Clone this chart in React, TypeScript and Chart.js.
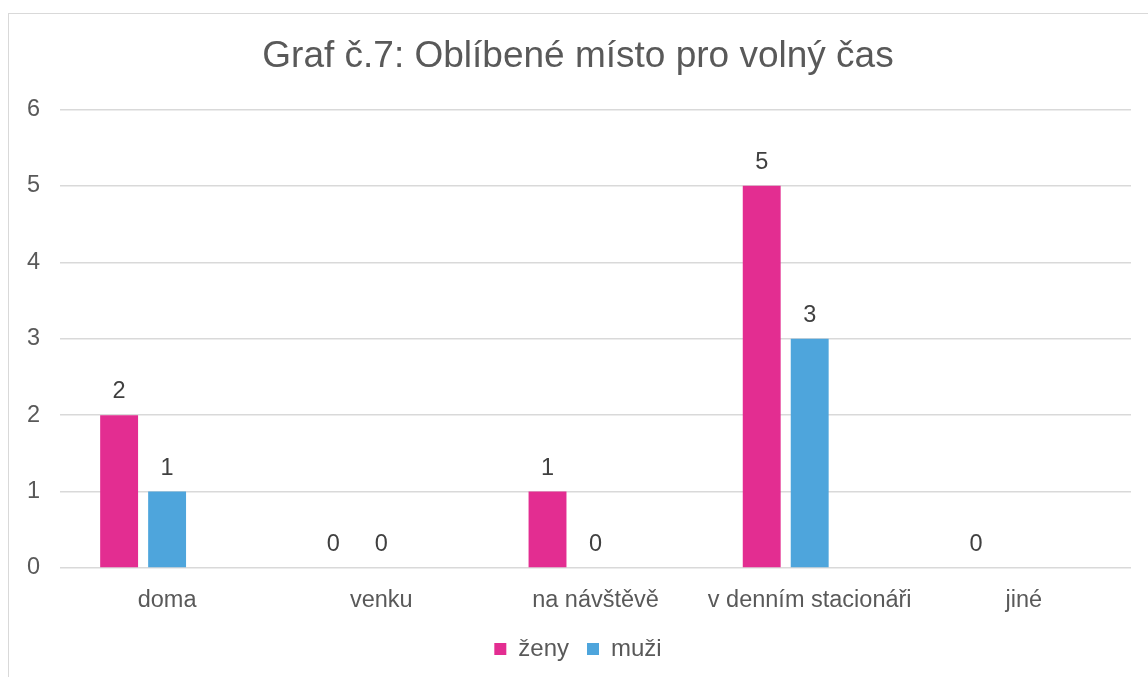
import React, { useEffect, useRef } from "react";
import { Chart, registerables } from "chart.js";

Chart.register(...registerables);

const TITLE = "Graf č.7: Oblíbené místo pro volný čas";
const CATEGORIES = ["doma", "venku", "na návštěvě", "v denním stacionáři", "jiné"];
const ZENY = [2, 0, 1, 5, 0];
const MUZI = [1, 0, 0, 3, null];
const SPACER = [null, null, null, null, null];
const Y_TICKS = [0, 1, 2, 3, 4, 5, 6];

const FONT = "'Liberation Sans', Arial, sans-serif";
const TEXT = "#595959";

const dataLabels = {
  id: "dataLabels",
  afterDatasetsDraw(chart: any) {
    const ctx = chart.ctx;
    ctx.save();
    ctx.font = `23.5px ${FONT}`;
    ctx.fillStyle = "#404040";
    ctx.textAlign = "center";
    ctx.textBaseline = "alphabetic";
    chart.data.datasets.forEach((ds: any, di: number) => {
      if (!ds.showLabels) return;
      const meta = chart.getDatasetMeta(di);
      meta.data.forEach((el: any, i: number) => {
        const v = ds.data[i];
        if (v === null || v === undefined) return;
        ctx.fillText(String(v), el.x, el.y - 17);
      });
    });
    ctx.restore();
  },
};

export default function App() {
  const ref = useRef<HTMLCanvasElement>(null);
  useEffect(() => {
    if (!ref.current) return;
    const chart = new Chart(ref.current, {
      type: "bar",
      data: {
        labels: CATEGORIES,
        datasets: [
          { label: "ženy", data: ZENY, backgroundColor: "#E32D91", showLabels: true } as any,
          { label: "muži", data: MUZI, backgroundColor: "#4EA5DC", showLabels: true } as any,
          { label: "", data: SPACER, backgroundColor: "rgba(0,0,0,0)", showLabels: false } as any,
        ],
      },
      options: {
        animation: false,
        responsive: false,
        maintainAspectRatio: false,
        devicePixelRatio: 1,
        layout: { padding: { left: 25, right: 17, top: 0, bottom: 6 } },
        datasets: { bar: { categoryPercentage: 0.672, barPercentage: 0.79 } },
        plugins: {
          title: {
            display: true,
            text: TITLE,
            color: TEXT,
            font: { family: FONT, size: 37, weight: "normal" },
            padding: { top: 35, bottom: 30 },
          },
          legend: {
            position: "bottom",
            labels: {
              color: TEXT,
              font: { family: FONT, size: 24 },
              boxWidth: 12,
              boxHeight: 12,
              padding: 18,
              filter: (item: any) => item.text !== "",
            },
          },
          tooltip: { enabled: false },
        },
        scales: {
          x: {
            grid: { display: false, drawTicks: false },
            border: { display: false },
            ticks: { color: TEXT, font: { family: FONT, size: 23.5 }, padding: 18, maxRotation: 0 },
            afterFit: (s: any) => { s.height = 51; },
          },
          y: {
            min: 0,
            max: 6,
            afterBuildTicks: (s: any) => { s.ticks = Y_TICKS.map((v) => ({ value: v })); },
            grid: { color: "#D9D9D9", lineWidth: 1.5, drawTicks: false },
            border: { display: false },
            ticks: { color: TEXT, font: { family: FONT, size: 23.5 }, padding: 20 },
            afterFit: (s: any) => { s.width = 35; },
          },
        },
      },
      plugins: [dataLabels],
    });
    return () => chart.destroy();
  }, []);
  return (
    <div style={{ position: "fixed", left: 0, top: 0, width: 1148, height: 677, overflow: "hidden", background: "#fff" }}>
      <div style={{ position: "absolute", left: 8, top: 13, width: 1200, height: 700, border: "1px solid #D9D9D9", boxSizing: "border-box" }} />
      <canvas ref={ref} width={1148} height={677} style={{ position: "absolute", left: 0, top: 0 }} />
    </div>
  );
}
